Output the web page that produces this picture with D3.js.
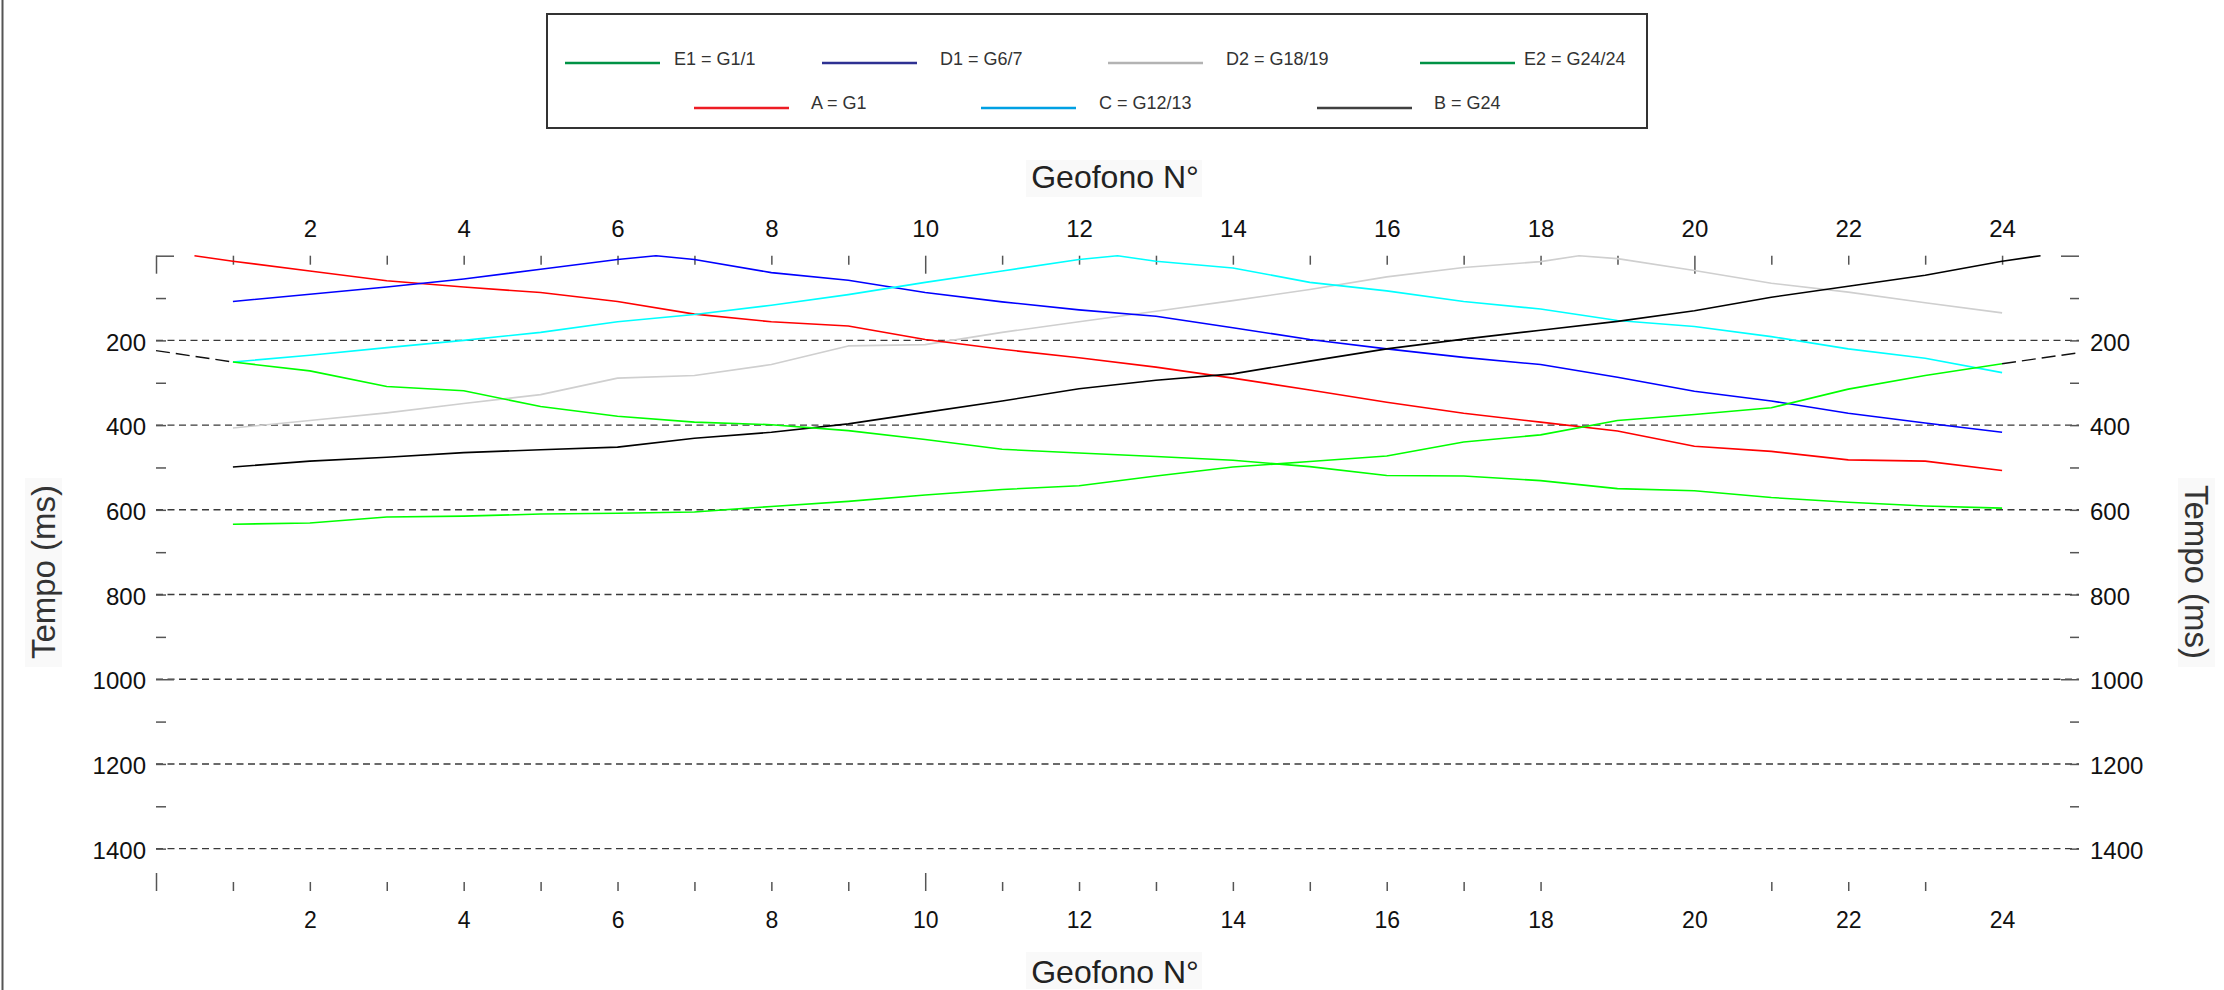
<!DOCTYPE html>
<html>
<head>
<meta charset="utf-8">
<script src="https://cdn.jsdelivr.net/npm/d3@7/dist/d3.min.js"></script>
<style>
  html, body { margin: 0; padding: 0; background: #fff; }
  svg { display: block; }
</style>
</head>
<body>
<script>
// ---------------- DATA ----------------
// geophone ticks / labels
const ticksXTop    = [0,1,2,3,4,5,6,7,8,9,10,11,12,13,14,15,16,17,18,19,20,21,22,23,24];
const ticksXBottom = [0,1,2,3,4,5,6,7,8,9,10,11,12,13,14,15,16,17,18,21,22,23];
const majorX       = [0,10,20];
const labelsX      = [2,4,6,8,10,12,14,16,18,20,22,24];
const ticksY       = [0,100,200,300,400,500,600,700,800,900,1000,1100,1200,1300,1400];
const majorY       = [0,1000];
const labelsY      = [200,400,600,800,1000,1200,1400];

// series: geophone position and arrival time (ms)
const xA  = [0.5,1,2,3,4,5,6,7,8,9,10,11,12,13,14,15,16,17,18,19,20,21,22,23,24];
const tA  = [0,13,36,59,74,87,108,138,156,166,198,221,241,263,289,317,346,372,393,414,450,462,482,485,507];

const xD1 = [1,2,3,4,5,6,6.5,7,8,9,10,11,12,13,14,15,16,17,18,19,20,21,22,23,24];
const tD1 = [108,91,74,55,32,9,0,9,40,58,87,109,128,143,170,198,220,240,257,287,320,343,372,395,417];

const xC  = [1,2,3,4,5,6,7,8,9,10,11,12,12.5,13,14,15,16,17,18,19,20,21,22,23,24];
const tC  = [251,235,217,200,181,156,139,117,92,63,36,9,0,13,29,63,83,108,126,153,167,191,220,242,276];

const xD2 = [1,2,3,4,5,6,7,8,9,10,11,12,13,14,15,16,17,18,18.5,19,20,21,22,23,24];
const tD2 = [407,389,371,349,328,289,283,257,213,210,181,156,131,106,80,50,28,14,0,7,35,65,86,111,135];

const xB  = [1,2,3,4,5,6,7,8,9,10,11,12,13,14,15,16,17,18,19,20,21,22,23,24,24.5];
const tB  = [499,485,476,465,458,452,431,417,397,370,343,314,294,279,249,220,197,176,155,130,98,72,46,13,0];

const xE  = [1,2,3,4,5,6,7,8,9,10,11,12,13,14,15,16,17,18,19,20,21,22,23,24];
const tE1 = [251,272,309,319,356,379,393,399,413,434,457,466,474,483,498,519,520,531,550,555,571,582,591,596];
const tE2 = [634,631,617,615,610,608,605,592,580,565,552,543,520,499,486,473,440,423,389,375,359,315,283,255];

// dashed extensions to the chart edges
const xExtL = [0,1];   const tExtL = [224,251];
const xExtR = [24,25]; const tExtR = [255,229];

// legend
const legendLabels = ["E1 = G1/1","D1 = G6/7","D2 = G18/19","E2 = G24/24","A = G1","C = G12/13","B = G24"];
const legendColors = ["#009245","#2e3192","#b3b3b3","#009245","#ed1c24","#00a0e3","#404040"];

const titleX = "Geofono N°";
const titleY = "Tempo (ms)";

// ---------------- LAYOUT ----------------
const W = 2224, H = 990;
const svg = d3.select("body").append("svg").attr("width", W).attr("height", H)
  .style("font-family", "'Liberation Sans', Arial, sans-serif");

svg.append("rect").attr("width", W).attr("height", H).attr("fill", "#fff");
// left frame line
svg.append("line").attr("x1", 2.5).attr("x2", 2.5).attr("y1", 0).attr("y2", H)
  .attr("stroke", "#555").attr("stroke-width", 2);

const x = d3.scaleLinear().domain([0, 25]).range([156, 2079]);
const y = d3.scaleLinear().domain([0, 1500]).range([255.7, 891]);

// dashed grid lines
svg.append("g").selectAll("line").data(labelsY).join("line")
  .attr("x1", x(0)).attr("x2", x(25))
  .attr("y1", d => y(d)).attr("y2", d => y(d))
  .attr("stroke", "#3a3a3a").attr("stroke-width", 1.4)
  .attr("stroke-dasharray", "7,4.5");

function styleAxis(g) {
  g.select(".domain").remove();
  g.selectAll(".tick line").attr("stroke", "#555").attr("stroke-width", 1.5);
  g.selectAll(".tick text").attr("fill", "#111").style("font-family", "'Liberation Sans', Arial, sans-serif");
  return g;
}
const minorOnly = (arr, majors) => arr.filter(v => !majors.includes(v));

// top axis
svg.append("g").attr("transform", `translate(0,${y(0)})`)
  .call(d3.axisTop(x).tickValues(minorOnly(ticksXTop, majorX)).tickSize(-9).tickFormat(""))
  .call(styleAxis);
svg.append("g").attr("transform", `translate(0,${y(0)})`)
  .call(d3.axisTop(x).tickValues(majorX.filter(v => ticksXTop.includes(v))).tickSize(-18).tickFormat(""))
  .call(styleAxis);
svg.append("g").attr("transform", `translate(0,${y(0)})`)
  .call(d3.axisTop(x).tickValues(labelsX).tickSize(0).tickPadding(19).tickFormat(d3.format("d")))
  .call(styleAxis)
  .call(g => g.selectAll("text").attr("font-size", 24));

// bottom axis
svg.append("g").attr("transform", `translate(0,${y(1500)})`)
  .call(d3.axisBottom(x).tickValues(minorOnly(ticksXBottom, majorX)).tickSize(-9).tickFormat(""))
  .call(styleAxis);
svg.append("g").attr("transform", `translate(0,${y(1500)})`)
  .call(d3.axisBottom(x).tickValues(majorX.filter(v => ticksXBottom.includes(v))).tickSize(-18).tickFormat(""))
  .call(styleAxis);
svg.append("g").attr("transform", `translate(0,${y(1500)})`)
  .call(d3.axisBottom(x).tickValues(labelsX).tickSize(0).tickPadding(21).tickFormat(d3.format("d")))
  .call(styleAxis)
  .call(g => g.selectAll("text").attr("font-size", 23));

// left axis
svg.append("g").attr("transform", `translate(${x(0)},0)`)
  .call(d3.axisLeft(y).tickValues(minorOnly(ticksY, majorY)).tickSize(-10).tickFormat(""))
  .call(styleAxis);
svg.append("g").attr("transform", `translate(${x(0)},0)`)
  .call(d3.axisLeft(y).tickValues(majorY).tickSize(-18).tickFormat(""))
  .call(styleAxis);
svg.append("g").attr("transform", `translate(${x(0)},2)`)
  .call(d3.axisLeft(y).tickValues(labelsY).tickSize(0).tickPadding(10).tickFormat(d3.format("d")))
  .call(styleAxis)
  .call(g => g.selectAll("text").attr("font-size", 24));

// right axis
svg.append("g").attr("transform", `translate(${x(25)},0)`)
  .call(d3.axisRight(y).tickValues(minorOnly(ticksY, majorY)).tickSize(-9).tickFormat(""))
  .call(styleAxis);
svg.append("g").attr("transform", `translate(${x(25)},0)`)
  .call(d3.axisRight(y).tickValues(majorY).tickSize(-18).tickFormat(""))
  .call(styleAxis);
svg.append("g").attr("transform", `translate(${x(25)},2)`)
  .call(d3.axisRight(y).tickValues(labelsY).tickSize(0).tickPadding(11).tickFormat(d3.format("d")))
  .call(styleAxis)
  .call(g => g.selectAll("text").attr("font-size", 24));

// ---------------- LINES ----------------
const line = d3.line().x(d => x(d[0])).y(d => y(d[1]));
const series = [
  { xs: xD2, ts: tD2, color: "#cfcfcf" },
  { xs: xA,  ts: tA,  color: "#ff0000" },
  { xs: xD1, ts: tD1, color: "#0000ff" },
  { xs: xC,  ts: tC,  color: "#00ffff" },
  { xs: xB,  ts: tB,  color: "#000000" },
  { xs: xE,  ts: tE1, color: "#00ff00" },
  { xs: xE,  ts: tE2, color: "#00ff00" }
];
svg.append("g").selectAll("path").data(series).join("path")
  .attr("d", s => line(d3.zip(s.xs, s.ts)))
  .attr("fill", "none").attr("stroke", s => s.color).attr("stroke-width", 1.6)
  .attr("stroke-linejoin", "round");

svg.append("g").selectAll("path").data([[xExtL, tExtL], [xExtR, tExtR]]).join("path")
  .attr("d", s => line(d3.zip(s[0], s[1])))
  .attr("fill", "none").attr("stroke", "#111").attr("stroke-width", 1.4)
  .attr("stroke-dasharray", "14,6");

// ---------------- TITLES ----------------
const cx = 1115;
const boxFill = "#f9f9f9";
svg.append("rect").attr("x", 1026).attr("y", 160).attr("width", 176).attr("height", 37).attr("fill", boxFill);
svg.append("text").attr("x", cx).attr("y", 188).attr("text-anchor", "middle")
  .attr("font-size", 32).attr("fill", "#222").text(titleX);
svg.append("rect").attr("x", 1026).attr("y", 952).attr("width", 176).attr("height", 37).attr("fill", boxFill);
svg.append("text").attr("x", cx).attr("y", 983).attr("text-anchor", "middle")
  .attr("font-size", 32).attr("fill", "#222").text(titleX);

svg.append("rect").attr("x", 25).attr("y", 478).attr("width", 37).attr("height", 189).attr("fill", boxFill);
svg.append("text").attr("transform", "translate(55,572) rotate(-90)").attr("text-anchor", "middle")
  .attr("font-size", 33).attr("fill", "#333").text(titleY);
svg.append("rect").attr("x", 2178).attr("y", 478).attr("width", 37).attr("height", 189).attr("fill", boxFill);
svg.append("text").attr("transform", "translate(2185,572) rotate(90)").attr("text-anchor", "middle")
  .attr("font-size", 33).attr("fill", "#333").text(titleY);

// ---------------- LEGEND ----------------
svg.append("rect").attr("x", 547).attr("y", 14).attr("width", 1100).attr("height", 114)
  .attr("fill", "#fff").attr("stroke", "#333").attr("stroke-width", 2);
const legLineX = [565, 822, 1108, 1420, 694, 981, 1317];
const legTextX = [674, 940, 1226, 1524, 811, 1099, 1434];
const legLineY = [63, 63, 63, 63, 108, 108, 108];
const legTextY = [59, 59, 59, 59, 103, 103, 103];
const lg = svg.append("g");
legendLabels.forEach((lab, i) => {
  lg.append("line").attr("x1", legLineX[i]).attr("x2", legLineX[i] + 95)
    .attr("y1", legLineY[i]).attr("y2", legLineY[i])
    .attr("stroke", legendColors[i]).attr("stroke-width", 2.5);
  lg.append("text").attr("x", legTextX[i]).attr("y", legTextY[i]).attr("dy", "0.35em")
    .attr("font-size", 18).attr("fill", "#333").text(lab);
});
</script>
</body>
</html>
